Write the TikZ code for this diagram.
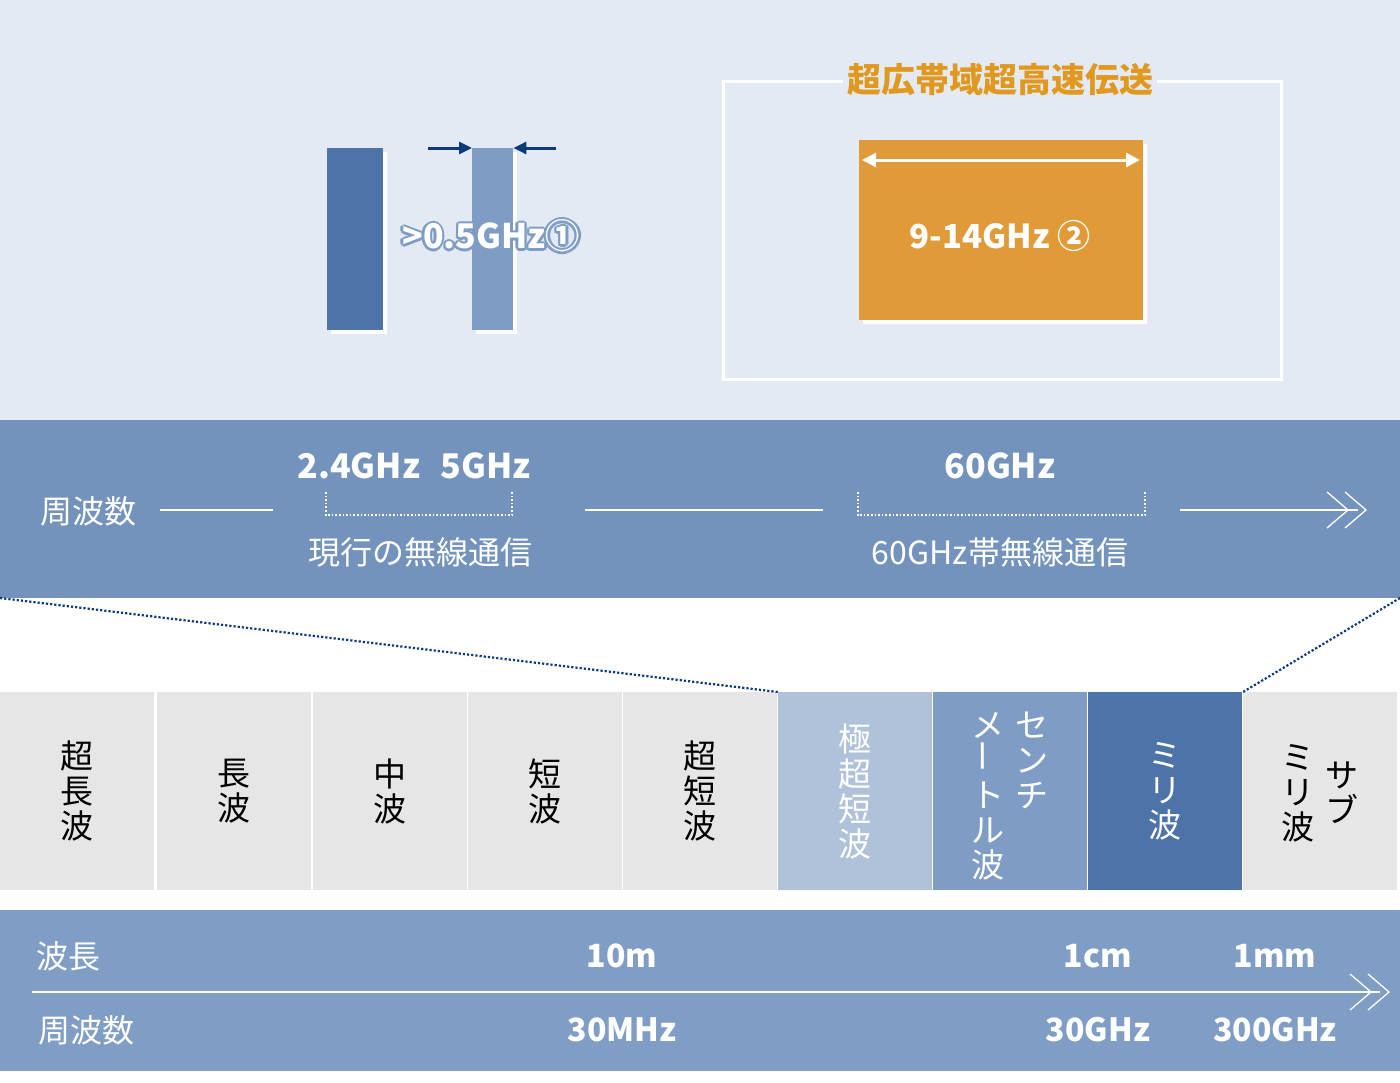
\documentclass[tikz,border=0pt]{standalone}
\usepackage{fontspec}
\setmainfont{Noto Sans CJK JP}
\usepackage{graphicx}
\usetikzlibrary{calc,arrows.meta}
\definecolor{topbg}{HTML}{E3EAF3}
\definecolor{band}{HTML}{7393BC}
\definecolor{band2}{HTML}{809EC5}
\definecolor{cgray}{HTML}{E6E6E6}
\definecolor{c1}{HTML}{AFC2DA}
\definecolor{c2}{HTML}{7F9DC4}
\definecolor{c3}{HTML}{4D74A8}
\definecolor{navy}{HTML}{0D3A7A}
\definecolor{orng}{HTML}{E0981E}
\definecolor{obox}{HTML}{E09A38}
\begin{document}
\begin{tikzpicture}[x=1pt,y=-1pt,
  wt/.style={text=white,inner sep=0pt,font=\fontsize{32}{34}\selectfont},
  wtb/.style={wt,font=\fontsize{34}{36}\selectfont\bfseries},
  vt/.style={inner sep=0pt,align=center,font=\fontsize{33}{35}\selectfont},
  wline/.style={white,line width=1.5pt},
  dots/.style={white,line width=1.6pt,dotted},
  cell/.style={draw=none,minimum height=198pt,inner sep=0pt,anchor=north west}]
\useasboundingbox (0,0) rectangle (1400,1082);
\fill[white] (0,0) rectangle (1400,1082);
\fill[topbg] (0,0) rectangle (1400,420);
\fill[band] (0,420) rectangle (1400,598);
\fill[band2] (0,910) rectangle (1400,1071);
% bars
\fill[white] (331,152) rectangle (387,334);
\node[fill=c3,minimum width=56pt,minimum height=182pt,inner sep=0pt,anchor=north west] (b1) at (327,148) {};
\fill[white] (476,152) rectangle (517,334);
\node[fill=c2,minimum width=41pt,minimum height=182pt,inner sep=0pt,anchor=north west] (b2) at (472,148) {};
\coordinate (al) at (428,148); \coordinate (ar) at (556,148);
\draw[navy,line width=3pt,-{Triangle[length=13pt,width=12pt]}] (al) -- (b2.north west);
\draw[navy,line width=3pt,-{Triangle[length=13pt,width=12pt]}] (ar) -- (b2.north east);
\foreach \dx/\dy in {-2.5/0,2.5/0,0/-2.5,0/2.5,-1.8/-1.8,1.8/1.8,-1.8/1.8,1.8/-1.8}
  \node[wtb,text=c2,font=\fontsize{34}{36}\selectfont\bfseries] at (491+\dx,236+\dy) {>0.5GHz①};
\node[wtb,font=\fontsize{34}{36}\selectfont\bfseries] (lab1) at (491,236) {>0.5GHz①};
% right box
\node[draw=white,line width=3pt,minimum width=558pt,minimum height=298pt,anchor=north west] (frame) at (722,80) {};
\node[fill=topbg,text=orng,inner sep=4pt,font=\fontsize{34}{36}\selectfont\bfseries] (title) at (1000,80) {超広帯域超高速伝送};
\fill[white] (863,144) rectangle (1147,324);
\node[fill=obox,minimum width=284pt,minimum height=180pt,inner sep=0pt,anchor=north west] (ob) at (859,140) {};
\coordinate (dl) at (862,160); \coordinate (dr) at (1140,160);
\draw[white,line width=3pt,{Triangle[length=14pt,width=14pt]}-{Triangle[length=14pt,width=14pt]}] (dl) -- (dr);
\node[wtb,font=\fontsize{33}{35}\selectfont\bfseries] (lab2) at (1000,236) {9-14GHz ②};
% upper band
\node[wt] (fq) at (88,511) {周波数};
\coordinate (l1a) at (160,510); \coordinate (l1b) at (273,510);
\coordinate (l2a) at (585,510); \coordinate (l2b) at (823,510);
\coordinate (l3a) at (1180,510); \coordinate (l3b) at (1358,510);
\draw[wline] (l1a) -- (l1b); \draw[wline] (l2a) -- (l2b); \draw[wline] (l3a) -- (l3b);
\draw[wline,line width=1.3pt] (1327,492) -- (1348,510) -- (1327,528);
\draw[wline,line width=1.3pt] (1345,492) -- (1366,510) -- (1345,528);
\node[wtb] (f24) at (414,466) {2.4GHz\hspace{0.6em}5GHz};
\draw[dots] (326,492) -- (326,515) -- (512,515) -- (512,492);
\node[wt] (cur) at (420,552) {現行の無線通信};
\node[wtb] (f60) at (1000,466) {60GHz};
\draw[dots] (858,492) -- (858,515) -- (1145,515) -- (1145,492);
\node[wt] (c60) at (1000,552) {60GHz帯無線通信};
% cells
\foreach \i/\x/\c in {1/0/cgray,2/157/cgray,3/313/cgray,4/468/cgray,5/623/cgray,6/778/c1,7/933/c2,8/1088/c3,9/1243/cgray}
  \node[cell,fill=\c,minimum width=154pt] (k\i) at (\x,692) {};
\node[vt] at (k1.center) {超\\長\\波};
\node[vt] at (k2.center) {長\\波};
\node[vt] at (k3.center) {中\\波};
\node[vt] at (k4.center) {短\\波};
\node[vt] at (k5.center) {超\\短\\波};
\node[vt,text=white] at (k6.center) {極\\超\\短\\波};
\node[vt,text=white,anchor=north] at ($(k7.north)+(22,20)$) {セ\\ン\\チ};
\node[vt,text=white,anchor=north] at ($(k7.north)+(-22,20)$) {メ\\\rotatebox{90}{ー}\\ト\\ル\\波};
\node[vt,text=white] at (k8.center) {ミ\\リ\\波};
\node[vt,anchor=north] at ($(k9.north)+(22,70)$) {サ\\ブ};
\node[vt,anchor=north] at ($(k9.north)+(-22,52)$) {ミ\\リ\\波};
% dotted zoom lines
\coordinate (zl) at (0,598); \coordinate (zr) at (1400,598);
\draw[navy,line width=2.2pt,dotted] (zl) -- (k6.north west);
\draw[navy,line width=2.2pt,dotted] (zr) -- (k9.north west);
% bottom band
\node[wt] (wl) at (68,956) {波長};
\node[wtb,font=\fontsize{32}{34}\selectfont\bfseries] at (622,956) {10m};
\node[wtb,font=\fontsize{32}{34}\selectfont\bfseries] at (1098,956) {1cm};
\node[wtb,font=\fontsize{32}{34}\selectfont\bfseries] at (1275,956) {1mm};
\coordinate (ba) at (32,992); \coordinate (bb) at (1380,992);
\draw[wline] (ba) -- (bb);
\draw[wline,line width=1.3pt] (1350,974) -- (1371,992) -- (1350,1010);
\draw[wline,line width=1.3pt] (1368,974) -- (1389,992) -- (1368,1010);
\node[wt] (fq2) at (86,1030) {周波数};
\node[wtb,font=\fontsize{32}{34}\selectfont\bfseries] at (622,1030) {30MHz};
\node[wtb,font=\fontsize{32}{34}\selectfont\bfseries] at (1098,1030) {30GHz};
\node[wtb,font=\fontsize{32}{34}\selectfont\bfseries] at (1275,1030) {300GHz};
\end{tikzpicture}
\end{document}
